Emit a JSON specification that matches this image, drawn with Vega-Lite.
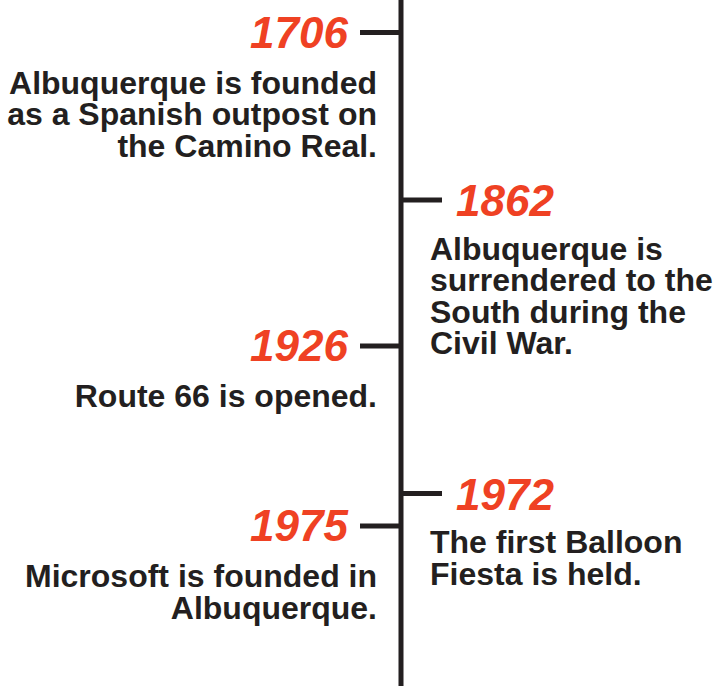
{
  "$schema": "https://vega.github.io/schema/vega-lite/v6.json",
  "width": 719,
  "height": 686,
  "padding": 0,
  "autosize": {"type": "none"},
  "background": "white",
  "config": {"view": {"stroke": null}},
  "data": {
    "values": [
      {"year": 1706, "side": "left", "text": "Albuquerque is founded\nas a Spanish outpost on\nthe Camino Real."},
      {"year": 1862, "side": "right", "text": "Albuquerque is\nsurrendered to the\nSouth during the\nCivil War."},
      {"year": 1926, "side": "left", "text": "Route 66 is opened."},
      {"year": 1972, "side": "right", "text": "The first Balloon\nFiesta is held."},
      {"year": 1975, "side": "left", "text": "Microsoft is founded in\nAlbuquerque."}
    ]
  },
  "layer": [
    {
      "data": {"values": [{"part": "axis"}]},
      "mark": {"type": "rule", "color": "#231f20", "strokeWidth": 5},
      "encoding": {
        "x": {"field": "part", "type": "nominal", "axis": null,
              "scale": {"type": "point", "domain": ["left", "axis", "right"], "range": [360, 442], "padding": 0}}
      }
    },
    {
      "mark": {"type": "rule", "color": "#231f20", "strokeWidth": 5},
      "encoding": {
        "x": {"field": "side", "type": "nominal", "axis": null,
              "scale": {"type": "point", "domain": ["left", "axis", "right"], "range": [360, 442], "padding": 0}},
        "x2": {"datum": "axis"},
        "y": {"field": "year", "type": "quantitative", "axis": null,
              "scale": {"domain": [1706, 1862, 1926, 1972, 1975], "range": [32.5, 200, 346, 493.5, 526], "nice": false, "zero": false}}
      }
    },
    {
      "transform": [{"filter": "datum.side == 'left'"}],
      "mark": {"type": "text", "align": "right", "baseline": "alphabetic", "dx": -12, "dy": 15,
               "font": "Liberation Sans", "fontSize": 44, "fontWeight": "bold", "fontStyle": "italic", "color": "#ef4123"},
      "encoding": {
        "x": {"field": "side", "type": "nominal"},
        "y": {"field": "year", "type": "quantitative"},
        "text": {"field": "year", "type": "nominal"}
      }
    },
    {
      "transform": [{"filter": "datum.side == 'right'"}],
      "mark": {"type": "text", "align": "left", "baseline": "alphabetic", "dx": 14, "dy": 16,
               "font": "Liberation Sans", "fontSize": 44, "fontWeight": "bold", "fontStyle": "italic", "color": "#ef4123"},
      "encoding": {
        "x": {"field": "side", "type": "nominal"},
        "y": {"field": "year", "type": "quantitative"},
        "text": {"field": "year", "type": "nominal"}
      }
    },
    {
      "transform": [{"filter": "datum.side == 'left'"}],
      "mark": {"type": "text", "align": "right", "baseline": "alphabetic", "dx": 17, "dy": 61, "lineBreak": "\n", "lineHeight": 31.5,
               "font": "Liberation Sans", "fontSize": 32, "fontWeight": "bold", "color": "#231f20"},
      "encoding": {
        "x": {"field": "side", "type": "nominal"},
        "y": {"field": "year", "type": "quantitative"},
        "text": {"field": "text", "type": "nominal"}
      }
    },
    {
      "transform": [{"filter": "datum.side == 'right'"}],
      "mark": {"type": "text", "align": "left", "baseline": "alphabetic", "dx": -12, "dy": 59.5, "lineBreak": "\n", "lineHeight": 31.5,
               "font": "Liberation Sans", "fontSize": 32, "fontWeight": "bold", "color": "#231f20"},
      "encoding": {
        "x": {"field": "side", "type": "nominal"},
        "y": {"field": "year", "type": "quantitative"},
        "text": {"field": "text", "type": "nominal"}
      }
    }
  ]
}
